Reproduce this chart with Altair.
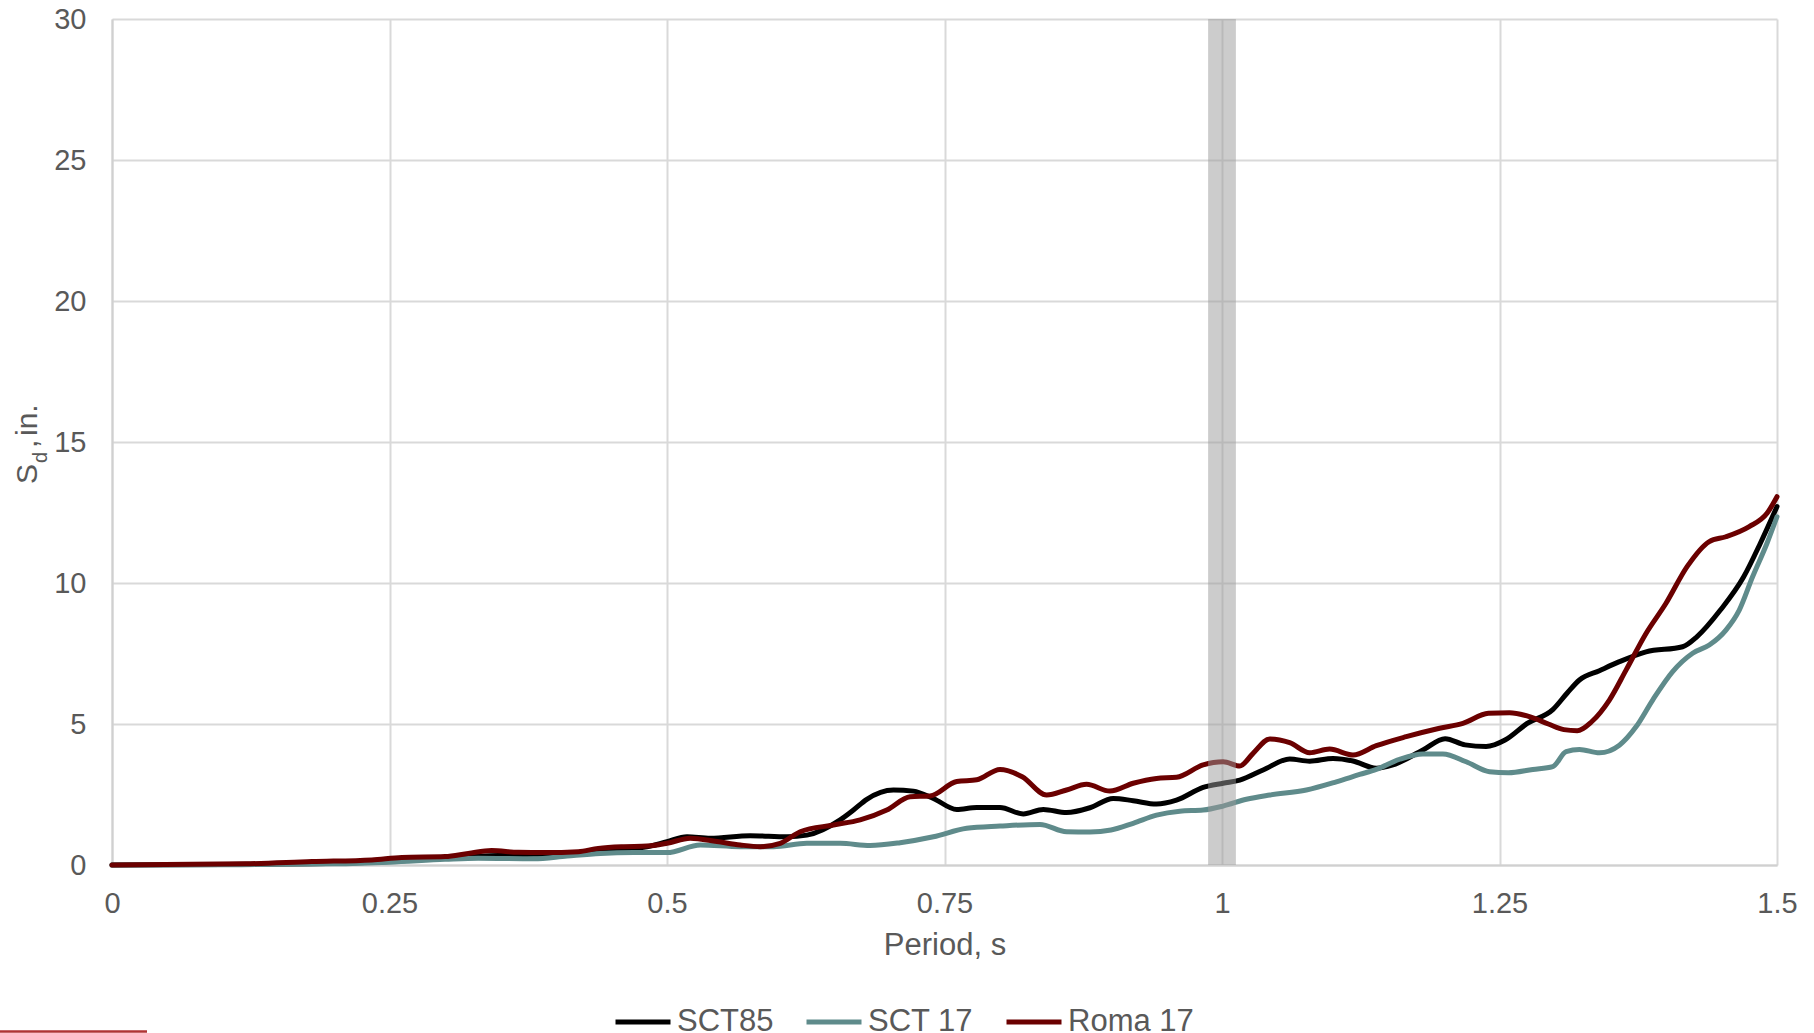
import altair as alt
import pandas as pd

# ---- series data: period (s) and spectral displacement Sd (in.) ----
SCT85_T = [0, 0.1, 0.2, 0.25, 0.3, 0.34, 0.38, 0.42, 0.44, 0.482, 0.5, 0.518, 0.539, 0.575,
           0.608, 0.626, 0.656, 0.668, 0.68, 0.704, 0.722, 0.74, 0.761, 0.779, 0.8, 0.821,
           0.839, 0.86, 0.881, 0.902, 0.92, 0.941, 0.959, 0.983, 1.001, 1.016, 1.037, 1.061,
           1.079, 1.1, 1.118, 1.139, 1.154, 1.181, 1.201, 1.219, 1.238, 1.255, 1.275, 1.298,
           1.311, 1.322, 1.34, 1.358, 1.382, 1.415, 1.428, 1.449, 1.47, 1.485, 1.5]
SCT85_SD = [0, 0.02, 0.06, 0.12, 0.25, 0.33, 0.38, 0.42, 0.52, 0.65, 0.83, 1.0, 0.95, 1.04,
            1.0, 1.06, 1.6, 1.95, 2.33, 2.66, 2.62, 2.36, 1.97, 2.04, 2.04, 1.81,
            1.97, 1.86, 2.03, 2.36, 2.28, 2.16, 2.3, 2.75, 2.9, 3.01, 3.37, 3.76,
            3.68, 3.78, 3.69, 3.43, 3.55, 4.08, 4.48, 4.26, 4.2, 4.43, 5.02, 5.51,
            6.1, 6.56, 6.89, 7.21, 7.56, 7.74, 8.1, 9.04, 10.22, 11.41, 12.71]

SCT17_T = [0, 0.1, 0.2, 0.25, 0.3, 0.33, 0.38, 0.41, 0.44, 0.47, 0.5, 0.53, 0.566, 0.596,
           0.626, 0.656, 0.683, 0.71, 0.74, 0.77, 0.8, 0.836, 0.86, 0.881, 0.9, 0.92, 0.941,
           0.962, 0.983, 1.001, 1.022, 1.043, 1.076, 1.103, 1.124, 1.139, 1.16, 1.181, 1.199,
           1.22, 1.241, 1.258, 1.28, 1.298, 1.31, 1.322, 1.34, 1.358, 1.373, 1.388, 1.406,
           1.424, 1.439, 1.454, 1.466, 1.478, 1.491, 1.5]
SCT17_SD = [0, 0.01, 0.04, 0.1, 0.2, 0.24, 0.22, 0.32, 0.41, 0.44, 0.44, 0.71, 0.65, 0.65,
            0.77, 0.77, 0.69, 0.79, 1.0, 1.3, 1.38, 1.44, 1.18, 1.17, 1.24, 1.48, 1.77,
            1.91, 1.95, 2.09, 2.33, 2.48, 2.66, 2.95, 3.21, 3.39, 3.75, 3.94, 3.94,
            3.66, 3.31, 3.27, 3.39, 3.49, 4.02, 4.1, 3.98, 4.25, 4.9, 5.85, 6.86,
            7.51, 7.8, 8.33, 9.04, 10.22, 11.41, 12.35]

ROMA17_T = [0, 0.12, 0.18, 0.234, 0.261, 0.3, 0.321, 0.342, 0.366, 0.39, 0.42, 0.438, 0.459,
            0.482, 0.5, 0.521, 0.545, 0.566, 0.584, 0.602, 0.62, 0.65, 0.674, 0.698, 0.719,
            0.737, 0.761, 0.779, 0.8, 0.82, 0.842, 0.86, 0.878, 0.899, 0.92, 0.941, 0.959,
            0.983, 1.001, 1.016, 1.028, 1.043, 1.061, 1.079, 1.097, 1.118, 1.139, 1.166,
            1.196, 1.217, 1.24, 1.259, 1.277, 1.294, 1.308, 1.32, 1.333, 1.349, 1.364,
            1.382, 1.4, 1.419, 1.439, 1.454, 1.475, 1.491, 1.5]
ROMA17_SD = [0, 0.04, 0.12, 0.18, 0.27, 0.3, 0.41, 0.51, 0.45, 0.44, 0.47, 0.59, 0.65,
             0.67, 0.77, 0.95, 0.83, 0.71, 0.65, 0.77, 1.18, 1.42, 1.6, 1.95, 2.42,
             2.45, 2.96, 3.02, 3.39, 3.13, 2.48, 2.66, 2.86, 2.62, 2.9, 3.07, 3.11,
             3.55, 3.66, 3.51, 3.96, 4.47, 4.34, 3.98, 4.11, 3.9, 4.23, 4.55,
             4.85, 5.02, 5.38, 5.4, 5.26, 5.0, 4.8, 4.76, 5.08, 5.85, 6.91,
             8.21, 9.28, 10.58, 11.47, 11.64, 12.0, 12.47, 13.06]

SERIES = ["SCT85", "SCT 17", "Roma 17"]
SERIES_COLORS = ["#000000", "#5f8b8b", "#6b0000"]

# shaded period band around T = 1 s
BAND_START = [0.9875]
BAND_END = [1.0125]

X_TICKS = [0, 0.25, 0.5, 0.75, 1, 1.25, 1.5]
Y_TICKS = [0, 5, 10, 15, 20, 25, 30]

# y-axis title pieces: "S" with subscript "d", then ", in."
Y_TITLE_PARTS = ["S", "d", ",", "in."]

# ---- layout (pixels) ----
W, H = 1665, 846
FONT = "Liberation Sans"
TEXT_GREY = "#595959"
LINE_W = 5

frames = []
for name, t, sd in [(SERIES[0], SCT85_T, SCT85_SD),
                    (SERIES[1], SCT17_T, SCT17_SD),
                    (SERIES[2], ROMA17_T, ROMA17_SD)]:
    frames.append(pd.DataFrame({"series": name, "period": t, "sd": sd}))
df = pd.concat(frames, ignore_index=True)

band_df = pd.DataFrame({"period": BAND_START, "period_end": BAND_END})

x_axis = alt.Axis(values=X_TICKS, labelExpr="'' + datum.value", title="Period, s",
                  grid=True, ticks=False, tickSize=0, labelPadding=24, titleY=65,
                  titleBaseline="top", labelFlush=False, labelOverlap=False)
y_axis = alt.Axis(values=Y_TICKS, title=None, grid=True, ticks=False, tickSize=0,
                  labelPadding=26, labelOverlap=False)

x_scale = alt.Scale(domain=[0, 1.5], nice=False, zero=False)
y_scale = alt.Scale(domain=[0, 30], nice=False)

color = alt.Color(
    "series:N",
    scale=alt.Scale(domain=SERIES, range=SERIES_COLORS),
    legend=alt.Legend(
        title=None, orient="none", direction="horizontal", legendX=501, legendY=973,
        symbolType="stroke", symbolSize=3025, symbolStrokeWidth=LINE_W,
        labelFont=FONT, labelFontSize=31, labelColor=TEXT_GREY, labelOffset=4,
        columnPadding=22, padding=0, symbolOpacity=1,
    ),
)

line_layers = []
for name in SERIES:
    line_layers.append(
        alt.Chart(df)
        .transform_filter(alt.datum.series == name)
        .mark_line(interpolate="monotone", strokeWidth=LINE_W, strokeCap="round",
                   strokeJoin="round")
        .encode(
            x=alt.X("period:Q", scale=x_scale, axis=x_axis),
            y=alt.Y("sd:Q", scale=y_scale, axis=y_axis),
            color=color,
        )
    )

band = (
    alt.Chart(band_df)
    .mark_rect(color="#999999", opacity=0.5)
    .encode(
        x=alt.X("period:Q", scale=x_scale, axis=x_axis),
        x2="period_end:Q",
        y=alt.value(0),
        y2=alt.value(H),
    )
)

# y-axis title, built from pieces so "d" can sit as a subscript
title_pos = [(-75, 465, 30), (-65, 444, 20), (-75, 429, 30), (-75, 417, 30)]
title_layers = []
for part, (px, py, fs) in zip(Y_TITLE_PARTS, title_pos):
    title_layers.append(
        alt.Chart(pd.DataFrame({"txt": [part]}))
        .mark_text(angle=270, align="left", baseline="alphabetic", font=FONT,
                   fontSize=fs, color=TEXT_GREY)
        .encode(text="txt:N", x=alt.value(px), y=alt.value(py))
    )

# thin red underline at the lower-left corner of the page
underline = (
    alt.Chart(pd.DataFrame({"k": [0]}))
    .mark_rule(color="#b03434", strokeWidth=2.5)
    .encode(x=alt.value(-112), x2=alt.value(35), y=alt.value(1012.5))
)

chart = (
    alt.layer(*line_layers, band, *title_layers, underline)
    .properties(
        width=W, height=H,
        autosize=alt.AutoSizeParams(type="none"),
        padding={"left": 112, "top": 19, "right": 37, "bottom": 168},
    )
    .configure_view(stroke=None)
    .configure_axis(
        labelFont=FONT, labelFontSize=29, labelColor=TEXT_GREY,
        titleFont=FONT, titleFontSize=31, titleColor=TEXT_GREY, titleFontWeight="normal",
        gridColor="#d9d9d9", gridWidth=2, domainColor="#d0d0d0", domainWidth=2,
    )
)

chart.save("out.html", embed_options={"renderer": "svg", "actions": False})
